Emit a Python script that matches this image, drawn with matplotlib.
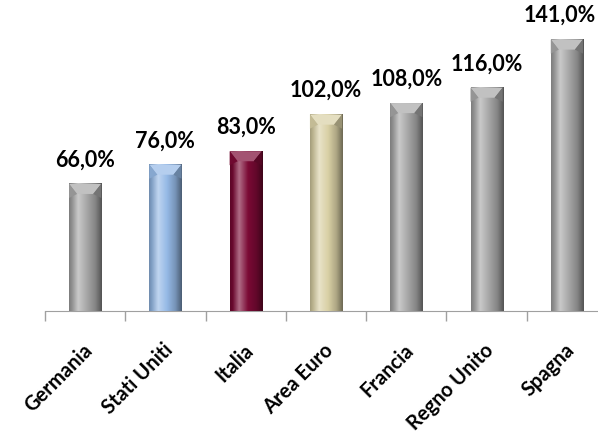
import numpy as np
import matplotlib.pyplot as plt
from matplotlib.colors import LinearSegmentedColormap, to_rgb
from matplotlib.transforms import offset_copy

paesi = ["Germania", "Stati Uniti", "Italia", "Area Euro", "Francia", "Regno Unito", "Spagna"]
valori = [66.0, 76.0, 83.0, 102.0, 108.0, 116.0, 141.0]
colori = ["#a6a6a6", "#95b9e6", "#7b0a35", "#d9d0a5", "#a6a6a6", "#a6a6a6", "#a6a6a6"]

plt.rcParams['font.family'] = ['Lato', 'DejaVu Sans']

fig = plt.figure(figsize=(5.98, 4.42), dpi=100)
ax = fig.add_axes([45 / 598, 131 / 442, 562 / 598, 308 / 442])

x = np.arange(len(paesi))
bars = ax.bar(x, valori, width=0.4, color=colori, zorder=2)

ax.set_xlim(-0.5, len(paesi) - 0.5)
ax.set_ylim(0, 160)


def shade(c):
    # horizontal gradient across the bar: lit on the left, dark on the right edge
    base = np.array(to_rgb(c))
    dark = base * 0.5
    light = np.minimum(base + (1 - base) * 0.4, 1)
    return LinearSegmentedColormap.from_list(
        "bar", [(0, base * 0.75), (0.08, base * 0.85), (0.28, light), (0.55, base),
                (0.8, base * 0.8), (1, dark)], N=256)


grad = np.linspace(0, 1, 256).reshape(1, -1)
etichette = []
for b, c in zip(bars, colori):
    x0, w, h = b.get_x(), b.get_width(), b.get_height()
    ax.imshow(grad, cmap=shade(c), aspect='auto', zorder=3,
              extent=[x0, x0 + w, 0, h], interpolation='bilinear')
    # bevelled cap at the top of the bar
    base = np.array(to_rgb(c))
    light = np.minimum(base + (1 - base) * 0.3, 1)
    cap = 5.2
    ax.fill([x0, x0 + w, x0 + w * 0.75, x0 + w * 0.25],
            [h, h, h - cap, h - cap], color=light, zorder=4, lw=0)
    ax.fill([x0 + w * 0.75, x0 + w, x0 + w],
            [h - cap, h, h - cap * 1.4], color=base * 0.7, zorder=4, lw=0)
    ax.fill([x0 + w * 0.25, x0, x0],
            [h - cap, h, h - cap * 1.4], color=base * 0.9, zorder=4, lw=0)
    t = ax.text(x0 + w / 2, h + 7, f"{h:.1f}%".replace(".", ","),
                ha='center', va='bottom', fontsize=15.5, fontweight='bold', color='black')
    etichette.append(t)

# keep value labels inside the figure on the right side
renderer = fig.canvas.get_renderer()
for t in etichette:
    bb = t.get_window_extent(renderer)
    over = bb.x1 - (fig.bbox.width - 2)
    if over > 0:
        t.set_transform(offset_copy(t.get_transform(), fig=fig, x=-over, units='dots'))

for s in ['top', 'right', 'left']:
    ax.spines[s].set_visible(False)
ax.spines['bottom'].set_color('#a0a0a0')
ax.set_yticks([])
ax.set_xticks(np.arange(len(paesi) + 1) - 0.5, minor=False)
ax.set_xticklabels([])
ax.tick_params(axis='x', length=7, color='#a0a0a0', width=1)

for i, p in enumerate(paesi):
    ax.annotate(p, (i, 0), xytext=(-2, -21), textcoords='offset points',
                ha='right', va='top', rotation=45, rotation_mode='anchor',
                fontsize=14.5, fontweight='bold', annotation_clip=False)

fig.savefig("out.png", dpi=100)
